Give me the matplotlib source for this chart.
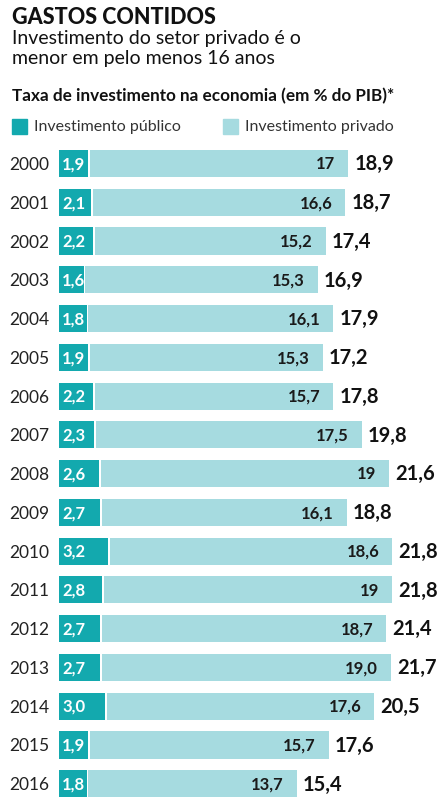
import matplotlib
matplotlib.use("Agg")
import matplotlib.pyplot as plt
from matplotlib.transforms import offset_copy

years = [2000, 2001, 2002, 2003, 2004, 2005, 2006, 2007, 2008, 2009, 2010,
         2011, 2012, 2013, 2014, 2015, 2016]
publico = [1.9, 2.1, 2.2, 1.6, 1.8, 1.9, 2.2, 2.3, 2.6, 2.7, 3.2, 2.8, 2.7, 2.7, 3.0, 1.9, 1.8]
privado = [17, 16.6, 15.2, 15.3, 16.1, 15.3, 15.7, 17.5, 19, 16.1, 18.6, 19, 18.7, 19.0, 17.6, 15.7, 13.7]
total = [18.9, 18.7, 17.4, 16.9, 17.9, 17.2, 17.8, 19.8, 21.6, 18.8, 21.8, 21.8, 21.4, 21.7, 20.5, 17.6, 15.4]
publico_labels = ["1,9", "2,1", "2,2", "1,6", "1,8", "1,9", "2,2", "2,3", "2,6", "2,7", "3,2",
                  "2,8", "2,7", "2,7", "3,0", "1,9", "1,8"]
privado_labels = ["17", "16,6", "15,2", "15,3", "16,1", "15,3", "15,7", "17,5", "19", "16,1",
                  "18,6", "19", "18,7", "19,0", "17,6", "15,7", "13,7"]
total_labels = ["18,9", "18,7", "17,4", "16,9", "17,9", "17,2", "17,8", "19,8", "21,6", "18,8",
                "21,8", "21,8", "21,4", "21,7", "20,5", "17,6", "15,4"]

C_PUB = "#13a9ae"
C_PRIV = "#a6dbe0"
FONT = ["Lato", "DejaVu Sans"]
plt.rcParams['font.family'] = FONT

W, H = 440, 805
fig = plt.figure(figsize=(W / 100, H / 100), dpi=100)

left_px, right_px = 59.3, 440
top_px, bot_px = 163.5 - 19.38, 783.7 + 19.38
ax = fig.add_axes([left_px / W, 1 - bot_px / H, (right_px - left_px) / W, (bot_px - top_px) / H])
ax.set_xlim(0, (right_px - left_px) / 15.2)
n = len(years)
ax.set_ylim(n - 0.5, -0.5)
ypos = list(range(n))
bh = 0.70

ax.barh(ypos, publico, height=bh, color=C_PUB, linewidth=0)
ax.barh(ypos, privado, left=[p + 0.12 for p in publico], height=bh, color=C_PRIV, linewidth=0)

for i in range(n):
    ax.text(0.2, i + 0.02, publico_labels[i], ha="left", va="center", color="white",
            fontsize=12, fontweight="bold")
    end = publico[i] + 0.12 + privado[i]
    tr = offset_copy(ax.transData, fig=fig, x=-13, y=0, units="dots")
    ax.text(end, i + 0.02, privado_labels[i], ha="right", va="center", color="#1a1a1a",
            fontsize=12, fontweight="bold", transform=tr)
    tr2 = offset_copy(ax.transData, fig=fig, x=6, y=0, units="dots")
    ax.text(end, i + 0.02, total_labels[i], ha="left", va="center", color="#111111",
            fontsize=14.5, fontweight="bold", transform=tr2)

ax.set_yticks(ypos)
ax.set_yticklabels([str(y) for y in years], fontsize=12.5, color="#222222")
ax.tick_params(axis="y", length=0, pad=7)
ax.set_xticks([])
for s in ax.spines.values():
    s.set_visible(False)

fig.text(12 / W, 1 - 7 / H, "GASTOS CONTIDOS", ha="left", va="top", fontsize=15.5,
         fontweight="black", color="#111111")
fig.text(12 / W, 1 - 30 / H, "Investimento do setor privado é o\nmenor em pelo menos 16 anos",
         ha="left", va="top", fontsize=14, color="#111111", linespacing=1.2)
fig.text(12 / W, 1 - 88 / H, "Taxa de investimento na economia (em % do PIB)*", ha="left",
         va="top", fontsize=12.3, fontweight="bold", color="#111111")

for x0, col, lab in [(12, C_PUB, "Investimento público"), (223, C_PRIV, "Investimento privado")]:
    fig.patches.append(plt.Rectangle((x0 / W, 1 - 134 / H), 15 / W, 15 / H,
                                     transform=fig.transFigure, color=col, figure=fig))
    fig.text((x0 + 22) / W, 1 - 126.5 / H, lab, ha="left", va="center", fontsize=11.5,
             color="#333333")

fig.savefig("out.png", dpi=100)
